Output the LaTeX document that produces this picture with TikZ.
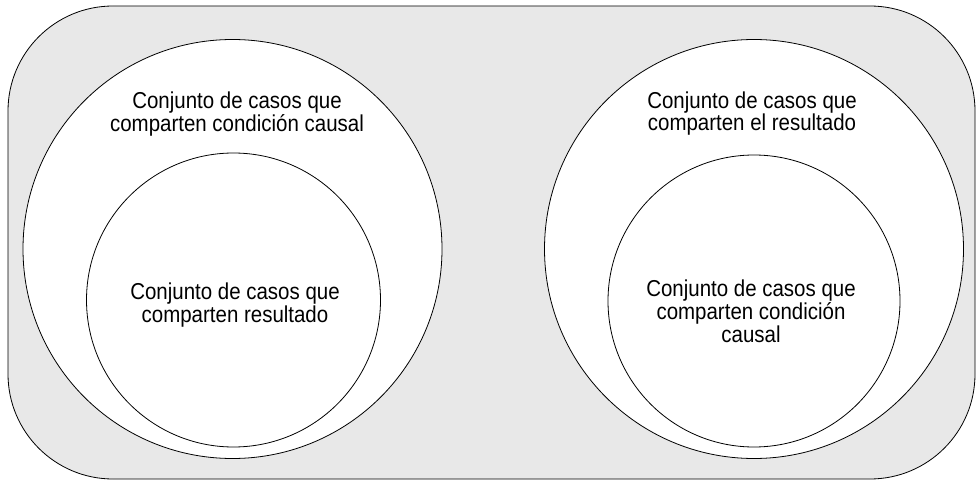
\documentclass[tikz,border=0pt]{standalone}
\usepackage{fontspec}
\setmainfont[FakeStretch=0.89]{Liberation Sans}
\definecolor{panelgray}{RGB}{232,232,232}
\begin{document}
\begin{tikzpicture}[x=1pt,y=-1pt,
  panel/.style={draw=black,line width=0.8pt,fill=panelgray,rounded corners=105pt},
  setcircle/.style={circle,draw=black,line width=0.8pt,fill=white,inner sep=0pt},
  label/.style={align=center,inner sep=0pt,anchor=base,font=\fontsize{23}{21}\selectfont}]
\useasboundingbox (0,0) rectangle (977,481);
\draw[panel] (8,6) rectangle (975,479);
\node[setcircle,minimum size=419pt] (L) at (232.5,249) {};
\node[setcircle,minimum size=294pt] (Li) at (233.5,300) {};
\node[setcircle,minimum size=419pt] (R) at (754,249) {};
\node[setcircle,minimum size=292pt] (Ri) at (754,301) {};
\node[label] (Lt) at (237,131.5) {Conjunto de casos que\\comparten condición causal};
\node[label] (Rt) at (752,130.5) {Conjunto de casos que\\comparten el resultado};
\node[label] (Lit) at (235,322) {Conjunto de casos que\\comparten resultado};
\node[label] (Rit) at (751,342) {Conjunto de casos que\\comparten condición\\causal};
\end{tikzpicture}
\end{document}
